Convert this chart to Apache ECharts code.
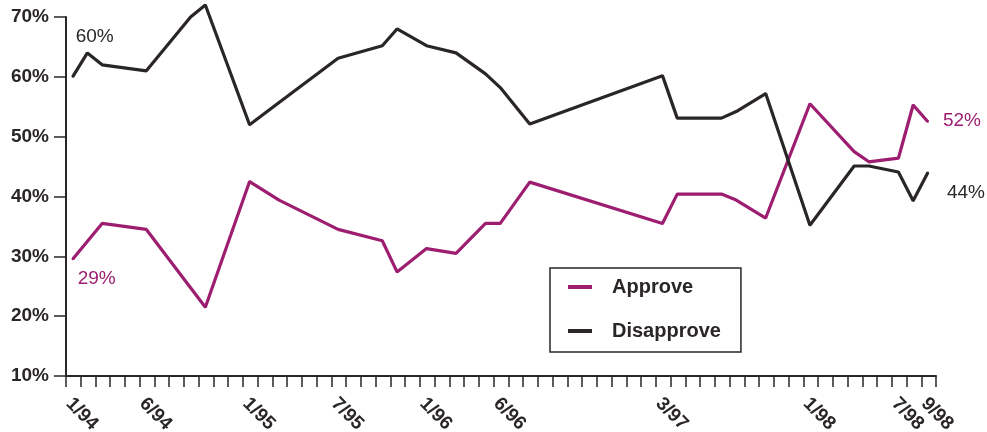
<!DOCTYPE html>
<html>
<head>
<meta charset="utf-8">
<script src="https://cdn.jsdelivr.net/npm/echarts@6/dist/echarts.min.js"></script>
<style>
  html, body { margin: 0; padding: 0; background: #fff; }
  #lineChart { width: 987px; height: 432px; }
</style>
</head>
<body>
<div id="lineChart"></div>
<script>
// one x tick per month slot, labels only on some of them
let tickSlots = [0, 5, 12, 18, 24, 29, 40, 50, 56, 58]
let tickLabels = ['1/94', '6/94', '1/95', '7/95', '1/96', '6/96', '3/97', '1/98', '7/98', '9/98']

let approveSlots = [0, 2, 5, 9, 12, 14, 18, 21, 22, 24, 26, 28, 29, 31, 40, 41, 44, 45, 47, 50, 53, 54, 56, 57, 58]
let approveValues = [29.5, 35.5, 34.5, 21.5, 42.5, 39.4, 34.5, 32.6, 27.4, 31.3, 30.5, 35.5, 35.5, 42.4, 35.5, 40.4, 40.4, 39.4, 36.4, 55.5, 47.5, 45.8, 46.4, 55.3, 52.5]

let disapproveSlots = [0, 1, 2, 5, 8, 9, 12, 14, 18, 21, 22, 24, 26, 28, 29, 31, 40, 41, 44, 45, 47, 50, 53, 54, 56, 57, 58]
let disapproveValues = [60, 64, 62, 61, 70, 72, 52, 55.7, 63.1, 65.2, 68, 65.2, 64, 60.5, 58.2, 52.1, 60.2, 53.1, 53.1, 54.2, 57.2, 35.2, 45.1, 45.1, 44.1, 39.3, 44]

// first / last value notes
let approveNotes = ['29%', '52%']
let disapproveNotes = ['60%', '44%']

const FONT = 'Liberation Sans, Arial, Helvetica, sans-serif'
const PURPLE = '#9d1d70'
const DARK = '#2a2627'
const inMonth = 0.45 // polls sit mid-month

function buildData (slots, values, notes, color, firstOffset, lastOffset) {
  return slots.map((s, i) => {
    let item = { value: [s + inMonth, values[i]] }
    if (i === 0 || i === slots.length - 1) {
      item.label = {
        show: true,
        position: 'right',
        distance: 5,
        offset: i === 0 ? firstOffset : lastOffset,
        formatter: i === 0 ? notes[0] : notes[1],
        color: color,
        fontFamily: FONT,
        fontSize: 19
      }
    }
    return item
  })
}

let myChart = echarts.init(document.getElementById('lineChart'))
myChart.setOption({
  animation: false,
  backgroundColor: '#fff',
  grid: {
    left: 66,
    right: 51,
    top: 17,
    bottom: 56,
    outerBoundsMode: 'none',
    containLabel: false
  },
  legend: {
    data: ['Approve', 'Disapprove'],
    orient: 'vertical',
    left: 550,
    top: 268,
    padding: [8, 20, 10, 18],
    itemGap: 22,
    itemWidth: 24,
    itemHeight: 4,
    icon: 'rect',
    borderColor: DARK,
    borderWidth: 1.5,
    textStyle: {
      color: DARK,
      fontFamily: FONT,
      fontWeight: 'bold',
      fontSize: 20,
      lineHeight: 22,
      padding: [0, 0, 0, 15]
    }
  },
  xAxis: {
    type: 'value',
    min: 0,
    max: 59,
    interval: 1,
    splitLine: { show: false },
    axisLine: { lineStyle: { color: DARK, width: 2 } },
    axisTick: { length: 11, lineStyle: { color: DARK, width: 1.5 } },
    axisLabel: {
      rotate: -45,
      margin: 22,
      padding: [0, 0, 0, 4],
      showMinLabel: true,
      showMaxLabel: true,
      color: DARK,
      fontFamily: FONT,
      fontWeight: 'bold',
      fontSize: 19,
      formatter: function (v) {
        let k = tickSlots.indexOf(Math.round(v))
        return k >= 0 ? tickLabels[k] : ''
      }
    }
  },
  yAxis: {
    type: 'value',
    min: 10,
    max: 70,
    interval: 10,
    splitLine: { show: false },
    axisLine: { show: true, lineStyle: { color: DARK, width: 2 } },
    axisTick: { show: true, length: 12, lineStyle: { color: DARK, width: 1.5 } },
    axisLabel: {
      margin: 17,
      color: DARK,
      fontFamily: FONT,
      fontWeight: 'bold',
      fontSize: 19,
      formatter: '{value}%'
    }
  },
  series: [
    {
      name: 'Approve',
      type: 'line',
      clip: false,
      symbol: 'circle',
      symbolSize: 2,
      itemStyle: { color: PURPLE },
      lineStyle: { color: PURPLE, width: 3.2 },
      data: buildData(approveSlots, approveValues, approveNotes, PURPLE, [-1, 19], [9, -1])
    },
    {
      name: 'Disapprove',
      type: 'line',
      clip: false,
      symbol: 'circle',
      symbolSize: 2,
      itemStyle: { color: DARK },
      lineStyle: { color: DARK, width: 3.2 },
      data: buildData(disapproveSlots, disapproveValues, disapproveNotes, DARK, [-3, -40], [13, 20])
    }
  ]
})
</script>
</body>
</html>
